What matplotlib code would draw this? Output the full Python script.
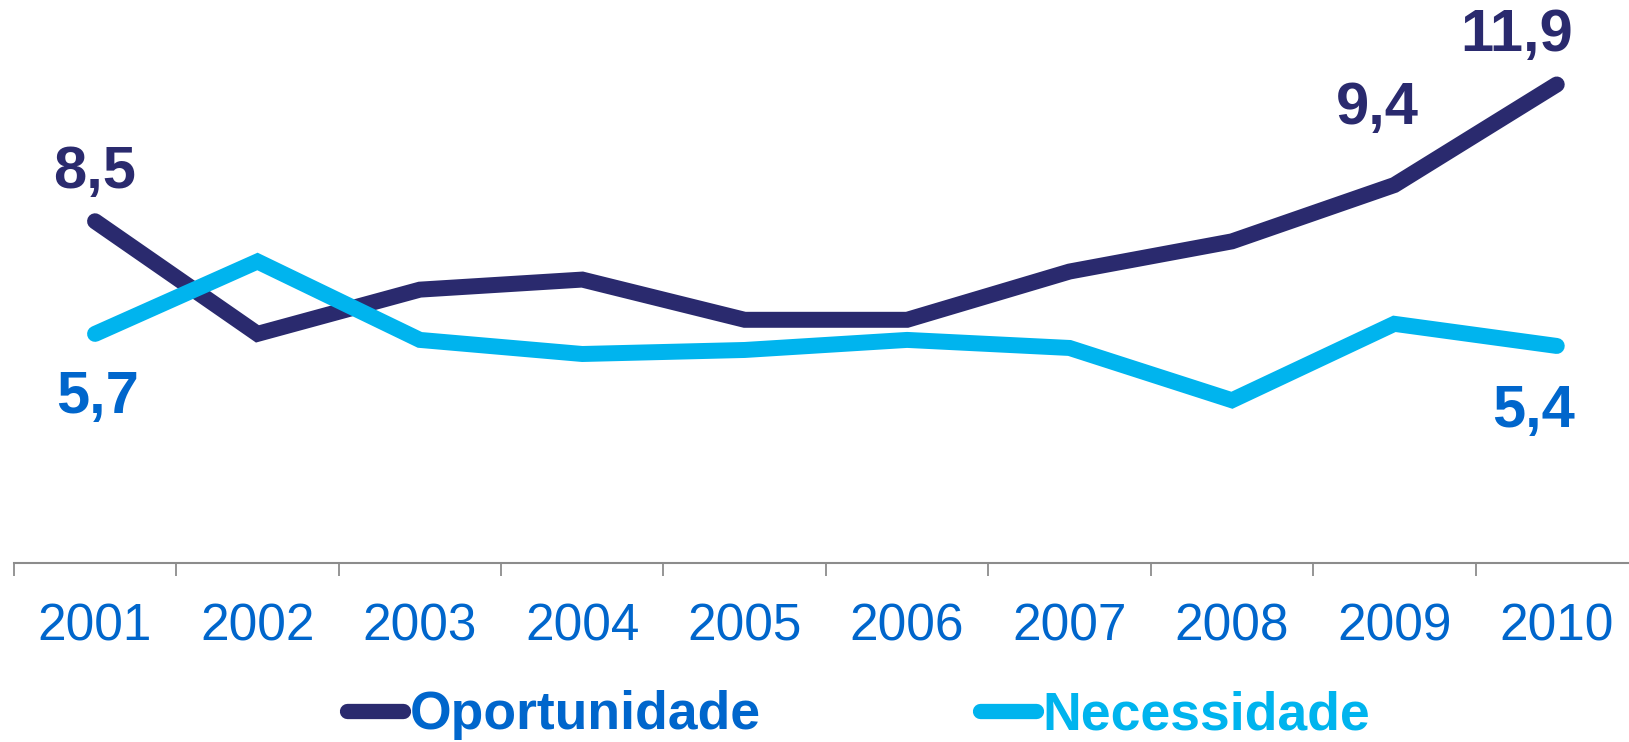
import matplotlib
matplotlib.use("Agg")
from matplotlib import pyplot as plt

plt.rcParams["font.family"] = ["Liberation Sans", "DejaVu Sans"]

years = ["2001", "2002", "2003", "2004", "2005", "2006", "2007", "2008", "2009", "2010"]
oportunidade = [8.5, 5.7, 6.8, 7.05, 6.05, 6.05, 7.25, 8.0, 9.4, 11.9]
necessidade = [5.7, 7.5, 5.55, 5.2, 5.3, 5.55, 5.35, 4.05, 5.95, 5.4]

# labelled points: index -> text
op_labels = {0: "8,5", 8: "9,4", 9: "11,9"}
ne_labels = {0: "5,7", 9: "5,4"}

navy = "#2a2a6e"
cyan = "#00b4ee"
blue = "#0066cc"

fig = plt.figure(figsize=(16.29, 7.42), dpi=100)
ax = fig.add_axes([0.0085, 0.241, 0.997, 0.759])

x = list(range(len(years)))
ax.plot(x, oportunidade, color=navy, lw=11.5, solid_capstyle="round",
        solid_joinstyle="miter", label="Oportunidade")
ax.plot(x, necessidade, color=cyan, lw=11.5, solid_capstyle="round",
        solid_joinstyle="miter", label="Necessidade")

offsets_op = {0: (0, 35), 8: (-12, 55), 9: (-29, 35)}
offsets_ne = {0: (2, -46), 9: (-17, -47)}
for i, t in op_labels.items():
    ax.annotate(t, (i, oportunidade[i]), xytext=offsets_op[i], textcoords="offset points",
                ha="center", va="center", fontsize=43, fontweight="bold", color=navy)
for i, t in ne_labels.items():
    ax.annotate(t, (i, necessidade[i]), xytext=offsets_ne[i], textcoords="offset points",
                ha="center", va="center", fontsize=43, fontweight="bold", color=blue)

ax.set_xlim(-0.5, len(years) - 0.5)
ax.set_ylim(0, 14)
ax.set_yticks([])
for s in ["top", "right", "left"]:
    ax.spines[s].set_visible(False)
ax.spines["bottom"].set_color("#8c8c8c")
ax.spines["bottom"].set_linewidth(1.5)

ax.set_xticks(x)
ax.set_xticklabels(years, fontsize=37, color=blue)
ax.tick_params(axis="x", which="major", length=0, pad=28)
ax.set_xticks([i - 0.5 for i in range(len(years) + 1)], minor=True)
ax.tick_params(axis="x", which="minor", length=9, width=1.3, color="#8c8c8c", direction="out")

leg = fig.legend(loc="center", bbox_to_anchor=(0.527, 0.036), ncol=2, frameon=False,
                 handlelength=1.05, handletextpad=0.12, columnspacing=4.1,
                 labelcolor=[blue, cyan], prop={"weight": "bold", "size": 38.5})
for line in leg.get_lines():
    line.set_linewidth(11)
    line.set_solid_capstyle("round")

fig.savefig("out.png", dpi=100)
